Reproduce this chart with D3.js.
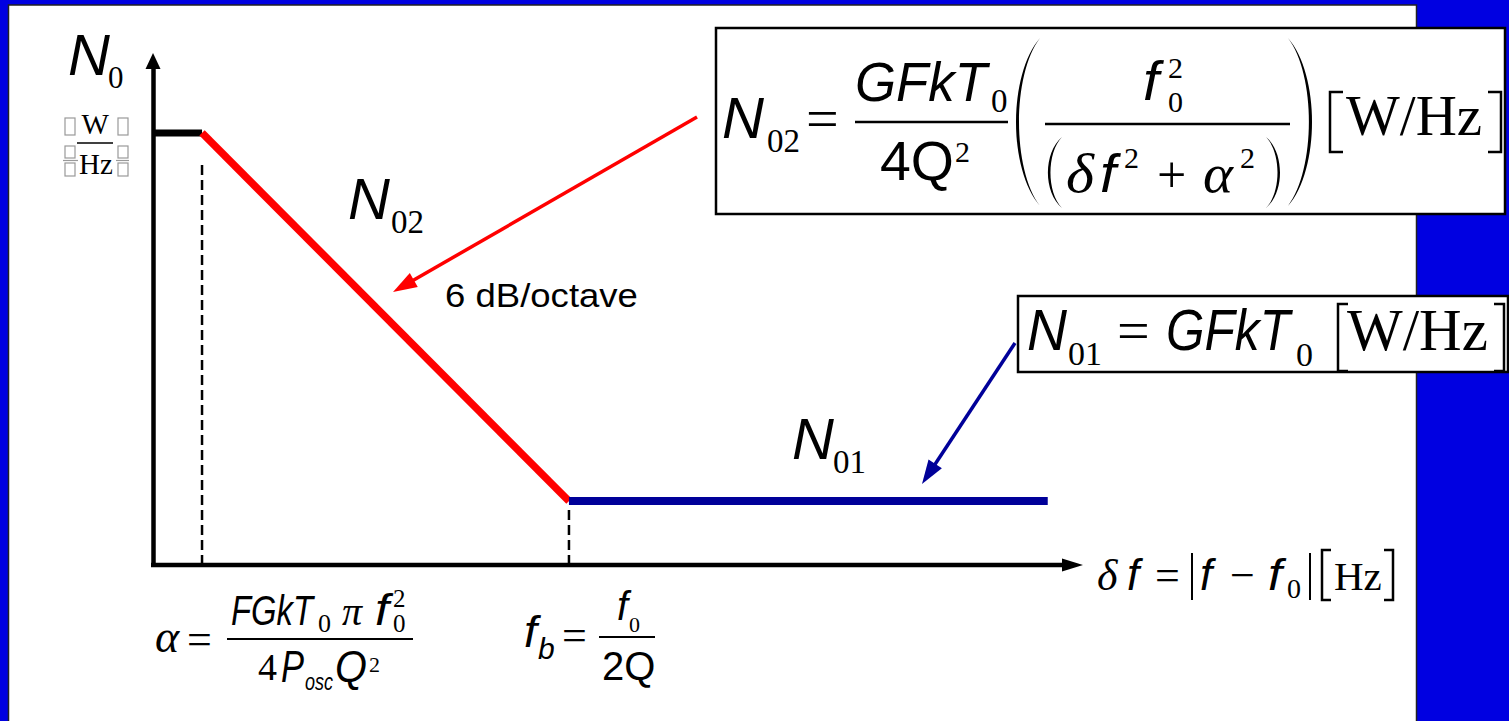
<!DOCTYPE html>
<html>
<head>
<meta charset="utf-8">
<script src="https://cdn.jsdelivr.net/npm/d3@7"></script>
<style>
  html, body { margin: 0; padding: 0; background: #0000e1; overflow: hidden; }
  svg { display: block; }
</style>
</head>
<body>
<svg id="chart" width="1509" height="721"></svg>
<script>
// Oscillator phase-noise spectral density sketch (log-log, schematic units)
const breakX = [0, 5.37, 45.56, 98.0];     // δf: origin, α, f_b, end of floor
const levelY = [85.9, 85.9, 12.7, 12.7];   // N0 level at each break
const segmentNames = ["flat", "N02", "N01"];
const segmentColors = ["#000000", "#ff0000", "#000099"];
const segmentWidths = [7, 7.5, 8];
const guideX = [5.37, 45.56];              // dashed guides at α and f_b
const guideGap = [32, 9];
const xDomain = [0, 100];
const yDomain = [0, 100];

const SANS = "'Liberation Sans', Arial, sans-serif";
const SERIF = "'Liberation Serif', 'Times New Roman', serif";

const svg = d3.select("#chart");

// white slide panel
svg.append("rect")
  .attr("x", 8.5).attr("y", 5).attr("width", 1408).attr("height", 720)
  .attr("fill", "#ffffff").attr("stroke", "#222").attr("stroke-width", 1.5);

const x = d3.scaleLinear().domain(xDomain).range([153, 1066]);
const y = d3.scaleLinear().domain(yDomain).range([565, 62]);

// dashed guides
svg.append("g").selectAll("line").data(guideX).join("line")
  .attr("x1", d => x(d)).attr("x2", d => x(d))
  .attr("y1", (d, i) => y(levelY[i + 1]) + guideGap[i])
  .attr("y2", y(0))
  .attr("stroke", "#000").attr("stroke-width", 2.5)
  .attr("stroke-dasharray", "10,5");

// axes
const gx = svg.append("g").attr("transform", `translate(0,${y(0)})`)
  .call(d3.axisBottom(x).tickValues([]).tickSizeOuter(0));
const gy = svg.append("g").attr("transform", `translate(${x(0)},0)`)
  .call(d3.axisLeft(y).tickValues([]).tickSizeOuter(0));
[gx, gy].forEach(g => g.select(".domain").attr("stroke", "#000").attr("stroke-width", 4.5));
gx.select(".domain").attr("d", `M${x(0) - 2},0H${x(100)}`);

// axis arrowheads
svg.append("path")
  .attr("d", `M${x(0)},${y(100) - 9} L${x(0) + 7.5},${y(100) + 7} L${x(0) - 7.5},${y(100) + 7} Z`)
  .attr("fill", "#000");
svg.append("path")
  .attr("d", `M${x(100) + 17},${y(0)} L${x(100) - 4},${y(0) - 6.5} L${x(100) - 4},${y(0) + 6.5} Z`)
  .attr("fill", "#000");

// spectrum segments
const line = d3.line().x(d => x(d[0])).y(d => y(d[1]));
const segs = segmentNames.map((name, i) => ({
  name, color: segmentColors[i], width: segmentWidths[i],
  pts: [[breakX[i], levelY[i]], [breakX[i + 1], levelY[i + 1]]]
}));
svg.append("g").selectAll("path").data(segs).join("path")
  .attr("d", d => line(d.pts))
  .attr("fill", "none")
  .attr("stroke", d => d.color)
  .attr("stroke-width", d => d.width)
  .attr("stroke-linecap", "butt");

// text runs of an expression; runs with a target width w are squeezed horizontally
function math(runs) {
  const g = svg.append("g");
  runs.forEach(r => {
    const el = g.append("text")
      .attr("transform", `translate(${r.x},${r.y})`)
      .text(r.t)
      .attr("fill", "#000")
      .attr("font-family", r.f || SANS)
      .attr("font-size", r.s)
      .attr("font-style", r.i ? "italic" : "normal");
    if (r.w) {
      const L = el.node().getComputedTextLength();
      if (L > 0) el.attr("transform", `translate(${r.x},${r.y}) scale(${(r.w / L).toFixed(4)},1)`);
    }
  });
  return g;
}
function hline(x1, x2, yy, w) {
  svg.append("line").attr("x1", x1).attr("x2", x2).attr("y1", yy).attr("y2", yy)
    .attr("stroke", "#000").attr("stroke-width", w || 2.5);
}
function vline(xx, y1, y2, w) {
  svg.append("line").attr("x1", xx).attr("x2", xx).attr("y1", y1).attr("y2", y2)
    .attr("stroke", "#000").attr("stroke-width", w || 2);
}
// tall parenthesis as a crescent; dir -1 = "(", +1 = ")"
function paren(xe, y1, y2, off, dir, th) {
  const h = y2 - y1, b = off / 0.75, bi = (off - (th || 3)) / 0.75;
  const d = `M${xe},${y1} C${xe + dir * b},${y1 + h * 0.22} ${xe + dir * b},${y2 - h * 0.22} ${xe},${y2}` +
            ` C${xe + dir * bi},${y2 - h * 0.22} ${xe + dir * bi},${y1 + h * 0.22} ${xe},${y1} Z`;
  svg.append("path").attr("d", d).attr("fill", "#000");
}
// square bracket; dir -1 = "[", +1 = "]"
function bracket(xv, y1, y2, w, dir) {
  svg.append("path")
    .attr("d", `M${xv - dir * w},${y1} H${xv} V${y2} H${xv - dir * w}`)
    .attr("fill", "none").attr("stroke", "#000").attr("stroke-width", 2.5);
}
function arrow(x1, y1, x2, y2, color, w, len, half) {
  const a = Math.atan2(y2 - y1, x2 - x1);
  const bx = x2 - len * Math.cos(a), by = y2 - len * Math.sin(a);
  svg.append("line").attr("x1", x1).attr("y1", y1).attr("x2", bx + 3 * Math.cos(a)).attr("y2", by + 3 * Math.sin(a))
    .attr("stroke", color).attr("stroke-width", w);
  const px = -Math.sin(a) * half, py = Math.cos(a) * half;
  svg.append("path")
    .attr("d", `M${x2},${y2} L${bx + px},${by + py} L${bx - px},${by - py} Z`)
    .attr("fill", color);
}

// y-axis title N0 [W/Hz]
math([{ x: 68, y: 75, t: "N", s: 58, i: true },
      { x: 108, y: 88, t: "0", s: 31, f: SERIF }]);
math([{ x: 81.5, y: 134, t: "W", s: 29, f: SERIF }]);
math([{ x: 79, y: 174, t: "Hz", s: 29, f: SERIF }]);
hline(77, 113, 143, 1.6);
// unrenderable bracket glyphs around the unit
const tofu = svg.append("g").attr("fill", "none").attr("stroke", "#999").attr("stroke-width", 1.2);
[[65, 118, 10, 17], [118, 118, 10, 17], [65, 146, 10, 12], [65, 163, 10, 13], [118, 146, 10, 12], [118, 163, 10, 13]]
  .forEach(r => tofu.append("rect").attr("x", r[0]).attr("y", r[1]).attr("width", r[2]).attr("height", r[3]));
tofu.append("line").attr("x1", 63).attr("x2", 78).attr("y1", 160.5).attr("y2", 160.5);
tofu.append("line").attr("x1", 116).attr("x2", 129).attr("y1", 160.5).attr("y2", 160.5);

// segment labels
math([{ x: 348, y: 219, t: "N", s: 58, i: true },
      { x: 391, y: 233, t: "02", s: 33, f: SERIF }]);
math([{ x: 445, y: 307, t: "6 dB/octave", s: 34, w: 193 }]);
math([{ x: 792, y: 459, t: "N", s: 58, i: true },
      { x: 833, y: 473, t: "01", s: 33, f: SERIF }]);

// annotation arrows
arrow(697, 117, 393, 292, "#ff0000", 3.5, 24, 8);
arrow(1015, 343, 922, 484, "#000099", 3.5, 24, 8);

// formula box: N02
svg.append("rect").attr("x", 716).attr("y", 28).attr("width", 789).attr("height", 186)
  .attr("fill", "#fff").attr("stroke", "#000").attr("stroke-width", 2.5);
hline(855, 1008, 122);
paren(1040, 38, 206, 24, -1, 3);
paren(1288, 38, 206, 24, 1, 3);
hline(1045, 1290, 124);
paren(1062, 137, 208, 14, -1, 2.5);
paren(1266, 137, 208, 14, 1, 2.5);
bracket(1330, 92, 152, 13, -1);
bracket(1501, 92, 152, 13, 1);
math([
  { x: 722, y: 138, t: "N", s: 58, i: true, w: 42 },
  { x: 767, y: 152, t: "02", s: 33, f: SERIF },
  { x: 806, y: 138, t: "=", s: 58, f: SERIF },
  { x: 855, y: 101, t: "GFkT", s: 56, i: true, w: 132 },
  { x: 991, y: 112, t: "0", s: 33, f: SERIF },
  { x: 880, y: 180, t: "4Q", s: 56, w: 74 },
  { x: 955, y: 162, t: "2", s: 30, f: SERIF },
  { x: 1143, y: 100, t: "f", s: 56, i: true, w: 16 },
  { x: 1168, y: 78, t: "2", s: 30, f: SERIF },
  { x: 1168, y: 112, t: "0", s: 30, f: SERIF },
  { x: 1066, y: 192, t: "δ", s: 54, f: SERIF, i: true, w: 28 },
  { x: 1100, y: 192, t: "f", s: 54, i: true, w: 16 },
  { x: 1124, y: 168, t: "2", s: 30, f: SERIF },
  { x: 1157, y: 192, t: "+", s: 52, f: SERIF },
  { x: 1203, y: 192, t: "α", s: 54, f: SERIF, i: true, w: 30 },
  { x: 1240, y: 168, t: "2", s: 30, f: SERIF },
  { x: 1346, y: 135, t: "W/Hz", s: 57, f: SERIF }
]);

// formula box: N01
svg.append("rect").attr("x", 1018).attr("y", 296).attr("width", 490).attr("height", 76)
  .attr("fill", "#fff").attr("stroke", "#000").attr("stroke-width", 2.5);
bracket(1338, 304, 371, 10, -1);
bracket(1504, 304, 371, 10, 1);
math([
  { x: 1027, y: 350, t: "N", s: 58, i: true, w: 40 },
  { x: 1068, y: 365, t: "01", s: 34, f: SERIF },
  { x: 1117, y: 350, t: "=", s: 58, f: SERIF },
  { x: 1166, y: 350, t: "GFkT", s: 58, i: true, w: 124 },
  { x: 1296, y: 366, t: "0", s: 34, f: SERIF },
  { x: 1347, y: 350, t: "W/Hz", s: 59, f: SERIF }
]);

// x-axis title δf = |f − f0| [Hz]
vline(1192, 553, 600, 2);
vline(1310, 553, 600, 2);
bracket(1322, 550, 600, 9, -1);
bracket(1393, 550, 600, 9, 1);
math([
  { x: 1097, y: 590, t: "δ", s: 44, f: SERIF, i: true },
  { x: 1127, y: 590, t: "f", s: 44, i: true },
  { x: 1155, y: 590, t: "=", s: 44, f: SERIF },
  { x: 1200, y: 590, t: "f", s: 44, i: true },
  { x: 1230, y: 590, t: "−", s: 44, f: SERIF },
  { x: 1268, y: 590, t: "f", s: 44, i: true, w: 14 },
  { x: 1287, y: 598, t: "0", s: 28, f: SERIF },
  { x: 1334, y: 590, t: "Hz", s: 41, f: SERIF }
]);

// α = F G k T0 π f0² / (4 Posc Q²)
hline(227, 413, 639, 2);
math([
  { x: 155, y: 652, t: "α", s: 46, f: SERIF, i: true },
  { x: 187, y: 654, t: "=", s: 44, f: SERIF },
  { x: 231, y: 625, t: "FGkT", s: 43, i: true, w: 82 },
  { x: 318, y: 632, t: "0", s: 26, f: SERIF },
  { x: 342, y: 625, t: "π", s: 40, f: SERIF, i: true },
  { x: 375, y: 625, t: "f", s: 45, i: true, w: 14 },
  { x: 393, y: 607, t: "2", s: 25, f: SERIF },
  { x: 393, y: 632, t: "0", s: 25, f: SERIF },
  { x: 258, y: 680, t: "4", s: 38, f: SERIF },
  { x: 281, y: 682, t: "P", s: 45, i: true, w: 23 },
  { x: 305, y: 690, t: "osc", s: 24, i: true, w: 28 },
  { x: 335, y: 682, t: "Q", s: 45, i: true, w: 32 },
  { x: 369, y: 672, t: "2", s: 22, f: SERIF }
]);

// f_b = f0 / 2Q
hline(599, 655, 637, 2);
math([
  { x: 524, y: 647, t: "f", s: 45, i: true, w: 13 },
  { x: 538, y: 659, t: "b", s: 30, i: true },
  { x: 562, y: 650, t: "=", s: 44, f: SERIF },
  { x: 617, y: 620, t: "f", s: 40, i: true, w: 11 },
  { x: 629, y: 632, t: "0", s: 22, f: SERIF },
  { x: 602, y: 680, t: "2Q", s: 40 }
]);
</script>
</body>
</html>
